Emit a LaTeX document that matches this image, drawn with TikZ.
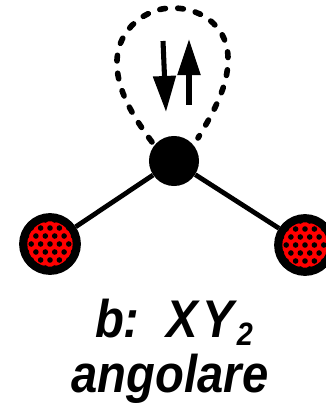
\documentclass[tikz,border=0pt]{standalone}
\usepackage{fontspec}
\setmainfont{Liberation Sans}
\usetikzlibrary{arrows.meta,positioning,calc}
\definecolor{softred}{RGB}{255,0,0}
\tikzset{
  centeratom/.style={circle, fill=black, inner sep=0pt, minimum size=1.25cm},
  sideatom/.style={circle, draw=black, line width=5.8pt, fill=softred, inner sep=0pt, minimum size=1.34cm,
    path picture={
      \foreach \row in {-3,...,3}
        \foreach \col in {-3,...,3}
          \fill[black] ($(path picture bounding box.center)+(\col*9.4+\row*4.7,\row*8)$) circle (0.07cm);
    }},
  bond/.style={line width=3.4pt},
  lobe/.style={line width=4pt, line cap=round, dash pattern=on 4pt off 8.8pt},
  spin/.style={line width=3.6pt, -{Triangle[length=0.9cm,width=0.55cm]}},
  caption/.style={inner sep=0pt, xscale=0.89, font=\fontsize{37.7}{44}\selectfont\bfseries\itshape}
}
\begin{document}
\begin{tikzpicture}[x=0.025cm,y=-0.025cm]
	\clip (0,0) rectangle (326,405);
	\node[centeratom] (center) at (174,161) {};
	\node[sideatom] (left) at (50,244) {};
	\node[sideatom] (right) at (305,245) {};
	\coordinate (lobestart) at (152,142);
	\coordinate (lobeend) at (198,138);
	\coordinate (downtop) at (163,41);
	\coordinate (downtip) at (166,112);
	\coordinate (uptop) at (189,105);
	\coordinate (uptip) at (189,39);
	
	\draw[bond] (center) -- (left);
	\draw[bond] (center) -- (right);
	\draw[lobe] (lobestart) .. controls (128,110) and (116,85) .. (117,60) .. controls (118,30) and (145,8) .. (172,8) .. controls (205,8) and (229,30) .. (228,60) .. controls (228,85) and (215,110) .. (lobeend);
	\draw[spin] (downtop) -- (downtip);
	\draw[spin] (uptop) -- (uptip);
	
	\node[caption, anchor=base] (formula) at (174,337) {b:\ \kern11pt X\kern4pt Y\kern2pt\raisebox{-5.7pt}{\fontsize{23}{23}\selectfont 2}};
	\node[caption, anchor=base] (shape) at (170,392) {angolare};
\end{tikzpicture}
\end{document}
